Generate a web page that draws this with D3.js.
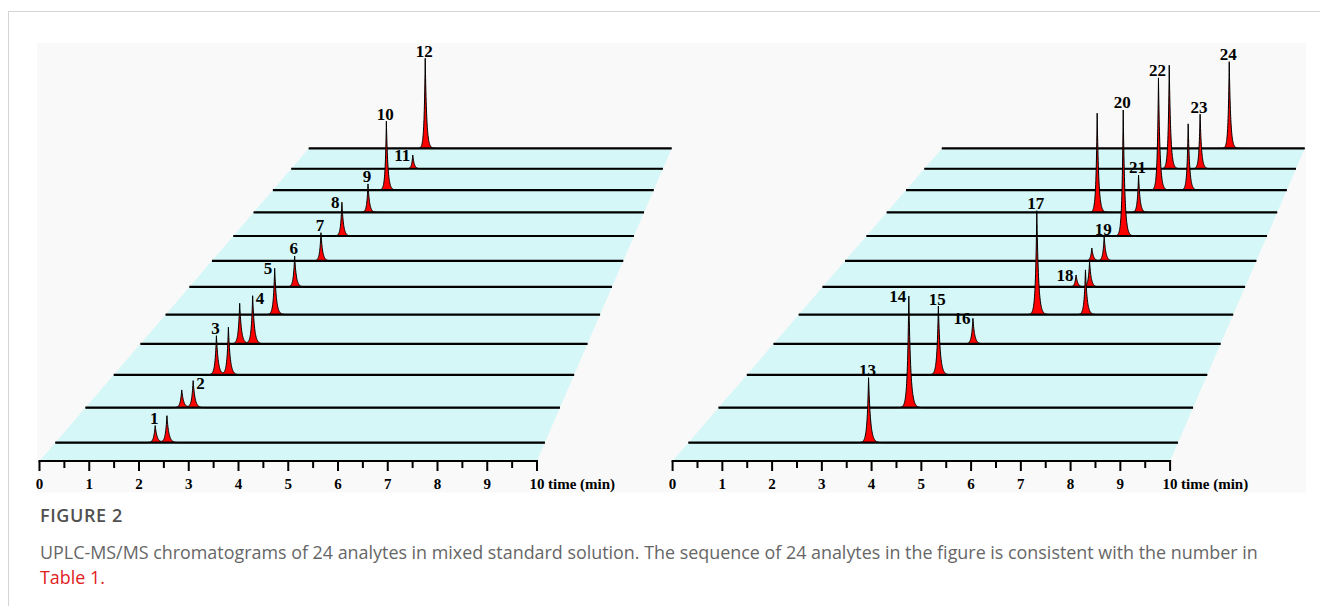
<!DOCTYPE html>
<html>
<head>
<meta charset="utf-8">
<script src="https://cdn.jsdelivr.net/npm/d3@7"></script>
<style>
  html, body { margin: 0; padding: 0; background: #ffffff; }
  svg { display: block; }
</style>
</head>
<body>
<svg id="fig" width="1320" height="606"></svg>
<script>
// ---- Data -----------------------------------------------------------------
// One MRM channel per row, listed front row first. Retention times in minutes,
// intensities relative to the largest peak (analyte 20 = 100).
const leftTimes = [[2.04, 2.28], [2.03, 2.27], [2.23, 2.49], [2.22, 2.51], [2.51], [2.49],
                   [2.65], [2.71], [2.93], [2.98], [3.27], [3.21]];
const leftIntensity = [[11.1, 17.5], [11.9, 18.1], [27.0, 32.8], [28.8, 34.2], [33.9], [23.3],
                       [21.7], [26.8], [23.2], [57.5], [11.8], [79.0]];
const leftAnalytes = ["1", "2", "3", "4", "5", "6", "7", "8", "9", "10", "11", "12"];
const leftLabelPeak = [0, 1, 0, 1, 0, 0, 0, 0, 0, 0, 0, 0];
const leftLabelSide = ["top", "right", "top", "right", "left", "top", "top", "left", "top", "top", "left", "top"];

const rightTimes = [[3.68], [4.01], [4.16], [4.46], [5.48, 6.60], [6.00, 6.32], [6.00, 6.30],
                    [6.41], [5.39, 6.45], [6.63, 7.41], [6.59, 7.42], [7.92]];
const rightIntensity = [[42.2], [74.8], [47.5], [18.1], [76.0, 32.7], [9.0, 19.0], [9.9, 18.9],
                        [100], [80.8, 30.5], [93.7, 55.3], [88.6, 46.7], [76.0]];
const rightAnalytes = ["13", "14", "15", "16", "17", "18", "19", "20", "21", "22", "23", "24"];
const rightLabelPeak = [0, 0, 0, 0, 0, 0, 1, 0, 1, 0, 1, 0];
const rightLabelSide = ["top", "left", "top", "left", "top", "left", "top", "top", "top", "top", "top", "top"];

const majorTicks = [0, 1, 2, 3, 4, 5, 6, 7, 8, 9, 10];
const minorTicks = [0.5, 1.5, 2.5, 3.5, 4.5, 5.5, 6.5, 7.5, 8.5, 9.5];
const tickLabels = ["0", "1", "2", "3", "4", "5", "6", "7", "8", "9", "10"];
const axisTitle = "time (min)";

const captionTitle = "FIGURE 2";
const captionText = "UPLC-MS/MS chromatograms of 24 analytes in mixed standard solution. The sequence of 24 analytes in the figure is consistent with the number in";
const captionLink = "Table 1.";

// ---- Layout ---------------------------------------------------------------
const svg = d3.select("#fig");
const serif = "'Liberation Serif', 'Times New Roman', serif";
const sans = "'Open Sans', 'Noto Sans', sans-serif";

// card frame and figure background
svg.append("rect").attr("x", 8.5).attr("y", 11.5).attr("width", 1400).attr("height", 700)
  .attr("fill", "#ffffff").attr("stroke", "#d4d4d4");
svg.append("rect").attr("x", 37).attr("y", 43).attr("width", 1269).attr("height", 449.5)
  .attr("fill", "#f9f9f9");

// perspective camera shared by both panels
const axisY = 461;          // front edge of the floor
const horizon = 1155;       // distance from the front edge to the horizon
const camDepth = 31;        // camera distance, in row spacings
const vanishT = 20;         // time value under the vanishing point
const rowDepth = d3.scaleLinear().domain([0, 11]).range([0.5, 11.5]);
const floorDepth = [0, 11.5];
const intensity = d3.scaleLinear().domain([0, 100]).range([0, 156.5]);

function drawPanel(x0, times, inten, names, labelPeak, labelSide) {
  const g = svg.append("g");
  const x = d3.scaleLinear().domain([0, 10]).range([x0, x0 + 497.5]);
  const shrink = d => camDepth / (camDepth + d);
  const px = (t, d) => { const xv = x(vanishT); return xv + (x(t) - xv) * shrink(d); };
  const py = (v, d) => axisY - horizon * (1 - shrink(d)) - intensity(v) * shrink(d);

  // floor
  const corners = [[0, floorDepth[0]], [10, floorDepth[0]], [10, floorDepth[1]], [0, floorDepth[1]]];
  g.append("polygon")
    .attr("points", corners.map(([t, d]) => [px(t, d), py(0, d)].join(",")).join(" "))
    .attr("fill", "#d5f7f7");

  // chromatogram traces, back row first so front peaks overlap
  const rows = d3.range(times.length).reverse();
  rows.forEach(i => {
    const d = rowDepth(i);
    const peaks = times[i].map((t, j) => ({ t, v: inten[i][j] }));
    const grid = Array.from(new Set(d3.range(0, 10.0001, 0.004).map(v => +v.toFixed(4))
      .concat(times[i]).concat([10]))).sort((a, b) => a - b);
    const signal = t => d3.sum(peaks, p => {
      const tau = t < p.t ? 0.030 : 0.040;
      return p.v * Math.exp(-Math.abs(t - p.t) / tau);
    });
    const pts = grid.map(t => ({ t, v: signal(t) }));

    g.append("path")
      .attr("d", d3.area().x(p => px(p.t, d)).y0(py(0, d)).y1(p => py(p.v, d))(pts))
      .attr("fill", "#ff0000");
    g.append("line")
      .attr("x1", px(0, d)).attr("x2", px(10, d))
      .attr("y1", py(0, d)).attr("y2", py(0, d))
      .attr("stroke", "#000").attr("stroke-width", 2.2);
    g.append("path")
      .attr("d", d3.line().x(p => px(p.t, d)).y(p => py(p.v, d))(pts))
      .attr("fill", "none").attr("stroke", "#000").attr("stroke-width", 1)
      .attr("stroke-linejoin", "round");

    // analyte number
    const k = labelPeak[i];
    const ax = px(times[i][k], d), ay = py(inten[i][k], d);
    const side = labelSide[i];
    const lab = g.append("text").text(names[i])
      .attr("font-family", serif).attr("font-weight", "bold").attr("font-size", 17)
      .attr("fill", "#000");
    if (side === "top") lab.attr("x", ax - 1).attr("y", ay - 1.5).attr("text-anchor", "middle");
    else if (side === "left") lab.attr("x", ax - 2.5).attr("y", ay + 6).attr("text-anchor", "end");
    else lab.attr("x", ax + 3).attr("y", ay + 8).attr("text-anchor", "start");
  });

  // time axis along the front edge
  g.append("line").attr("x1", x(0) - 1).attr("x2", x(10) + 1)
    .attr("y1", axisY).attr("y2", axisY)
    .attr("stroke", "#000").attr("stroke-width", 2);
  g.selectAll(null).data(majorTicks).join("line")
    .attr("x1", d => x(d)).attr("x2", d => x(d))
    .attr("y1", axisY).attr("y2", axisY + 10)
    .attr("stroke", "#000").attr("stroke-width", 2);
  g.selectAll(null).data(minorTicks).join("line")
    .attr("x1", d => x(d)).attr("x2", d => x(d))
    .attr("y1", axisY).attr("y2", axisY + 7)
    .attr("stroke", "#000").attr("stroke-width", 2);
  g.selectAll(null).data(majorTicks).join("text")
    .attr("x", d => x(d)).attr("y", axisY + 28)
    .attr("text-anchor", "middle")
    .attr("font-family", serif).attr("font-weight", "bold").attr("font-size", 15)
    .text((d, i) => tickLabels[i]);
  g.append("text").attr("x", x(10) + 11).attr("y", axisY + 28)
    .attr("font-family", serif).attr("font-weight", "bold").attr("font-size", 15)
    .text(axisTitle);
}

drawPanel(39.5, leftTimes, leftIntensity, leftAnalytes, leftLabelPeak, leftLabelSide);
drawPanel(672.6, rightTimes, rightIntensity, rightAnalytes, rightLabelPeak, rightLabelSide);

// caption
svg.append("text").attr("x", 40).attr("y", 522)
  .attr("font-family", sans).attr("font-weight", 600).attr("font-size", 18)
  .attr("letter-spacing", 0.6)
  .attr("fill", "#505050").text(captionTitle);
svg.append("text").attr("x", 40).attr("y", 559)
  .attr("font-family", sans).attr("font-size", 17.9)
  .attr("fill", "#666666").text(captionText);
svg.append("text").attr("x", 40).attr("y", 584)
  .attr("font-family", sans).attr("font-size", 17.9)
  .attr("fill", "#e0201b").text(captionLink);
</script>
</body>
</html>
